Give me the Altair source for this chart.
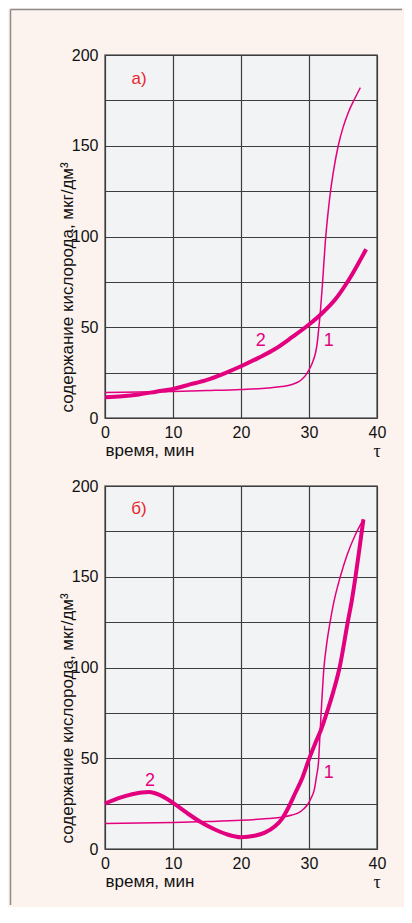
import altair as alt
import pandas as pd

# ---- data ----
a_thin_t = [0, 5, 10, 15, 20, 24, 26, 27.5, 28.5, 29, 29.5, 30, 30.5, 30.9, 31.2, 31.45, 31.7, 32.0, 32.4, 32.8, 33.1, 33.6, 34.3, 35.0, 35.8, 36.6, 37.55]
a_thin_c = [14, 14.3, 14.6, 15.1, 15.7, 16.5, 17.3, 18.5, 20, 21.5, 23.5, 26.5, 30.5, 35, 41, 50, 60, 75, 97, 113, 123, 136, 150, 160, 168.5, 175, 182]
a_thick_t = [0, 2.5, 5, 7.5, 10, 12.5, 15, 17.5, 20, 22.5, 25, 27.5, 30, 32, 34, 36, 38.4]
a_thick_c = [11.5, 12, 13, 14.5, 16, 18.5, 21, 24.5, 28.5, 33, 38, 44.5, 51.5, 58, 66, 77, 93]

b_thin_t = [0, 5, 10, 15, 20, 24, 26, 27.5, 28.5, 29.2, 29.8, 30.3, 30.8, 31.1, 31.4, 31.6, 31.8, 32.2, 32.6, 33.1, 33.65, 34.6, 35.6, 36.8, 38]
b_thin_c = [14, 14.3, 14.6, 15.1, 15.8, 16.8, 17.5, 18.7, 20, 22, 24.5, 28, 33, 40, 48, 62, 76, 100, 113, 125, 136, 150, 162, 173, 181.6]
b_thick_t = [0, 2, 4, 6.5, 8, 10, 12, 14, 16, 18, 20, 22, 23.5, 25, 26, 27, 28, 29, 30, 31, 31.7, 32.7, 33.6, 34.5, 35.7, 36.3, 36.8, 37.4, 38]
b_thick_c = [25, 28, 30.2, 31.4, 29.8, 25.4, 20, 15, 11, 8, 6.5, 7.3, 9, 12.5, 16.5, 23, 31, 39, 49.5, 59, 65, 76, 87, 100, 125, 137, 149, 165, 181.6]

a_labels = {"text": ["2", "1"], "t": [22.9, 32.9], "c": [42.3, 42.3]}
b_labels = {"text": ["2", "1"], "t": [6.6, 32.9], "c": [37.3, 41.9]}
letters = ["а)", "б)"]
letter_pos = {"t": [5, 5], "c": [187, 187.5]}

x_ticks = [0, 10, 20, 30, 40]
y_ticks = [0, 25, 50, 75, 100, 125, 150, 175, 200]

MAGENTA = "#e2007f"
RED = "#e8262b"
FONT = "Liberation Sans"
NARROW = "Liberation Sans Narrow, Liberation Sans"
W, H = 272, 363


def panel(thin_t, thin_c, thick_t, thick_c, labels, letter, lpos_c, frame=False):
    xs = alt.X("t:Q", scale=alt.Scale(domain=[0, 40], nice=False),
               axis=alt.Axis(values=x_ticks, title="время, мин", grid=True, ticks=False, domain=False,
                             labelPadding=6, labelFlush=False, labelOverlap=False,
                             labelFont=NARROW, labelFontSize=16, labelColor="#111",
                             titleX=0, titleY=37, titleAlign="left", titleBaseline="alphabetic",
                             titleFont=FONT, titleFontSize=17, titleFontWeight="normal", titleColor="#111"))
    ys = alt.Y("c:Q", scale=alt.Scale(domain=[0, 200], nice=False),
               axis=alt.Axis(values=y_ticks, labelExpr="datum.value % 50 === 0 ? datum.label : ''",
                             title="содержание кислорода, мкг/дм³", grid=True, ticks=False, domain=False,
                             labelPadding=7, labelFlush=False, labelOverlap=False,
                             labelFont=NARROW, labelFontSize=16, labelColor="#111",
                             titleX=-33, titleY=357, titleAngle=270, titleAlign="left",
                             titleBaseline="alphabetic",
                             titleFont=FONT, titleFontSize=17, titleFontWeight="normal", titleColor="#111"))

    d_thin = pd.DataFrame({"t": thin_t, "c": thin_c, "i": range(len(thin_t))})
    d_thick = pd.DataFrame({"t": thick_t, "c": thick_c, "i": range(len(thick_t))})

    thin = alt.Chart(d_thin).mark_line(color=MAGENTA, strokeWidth=1.5, interpolate="monotone").encode(
        x=xs, y=ys, order="i:Q")
    thick = alt.Chart(d_thick).mark_line(color=MAGENTA, strokeWidth=4, interpolate="monotone").encode(
        x=xs, y=ys, order="i:Q")
    nums = alt.Chart(pd.DataFrame(labels)).mark_text(color=MAGENTA, font=FONT, fontSize=18,
                                                   baseline="middle", align="center").encode(
        x=xs, y=ys, text="text:N")
    let = alt.Chart(pd.DataFrame({"text": [letter], "t": [letter_pos["t"][0]], "c": [lpos_c]})).mark_text(
        color=RED, font=FONT, fontSize=17, baseline="middle", align="center").encode(x=xs, y=ys, text="text:N")
    tau = alt.Chart(pd.DataFrame({"t": [40], "text": ["τ"]})).mark_text(
        color="#111", font="Liberation Serif", fontSize=18, baseline="alphabetic", align="center").encode(
        x=xs, y=alt.value(H + 39), text="text:N")
    layers = [thin, thick, nums, let, tau]
    if frame:
        one = pd.DataFrame({"k": [0]})
        vline = alt.Chart(one).mark_rule(color="#8a8a8a", strokeWidth=1.5).encode(
            x=alt.value(-94.5), y=alt.value(-45.5), y2=alt.value(850))
        hline = alt.Chart(one).mark_rule(color="#8a8a8a", strokeWidth=1.5).encode(
            x=alt.value(-94.5), x2=alt.value(297), y=alt.value(-45.5))
        layers += [vline, hline]
    return alt.layer(*layers).properties(width=W, height=H)


pa = panel(a_thin_t, a_thin_c, a_thick_t, a_thick_c, a_labels, letters[0], letter_pos["c"][0], frame=True)
pb = panel(b_thin_t, b_thin_c, b_thick_t, b_thick_c, b_labels, letters[1], letter_pos["c"][1])

chart = alt.vconcat(pa, pb, spacing=68, bounds="flush").properties(
    padding={"left": 1, "top": 0, "right": 0, "bottom": 0},
    background="#fcf3ee",
).configure_view(
    stroke="#6a6a6a", strokeWidth=1.5, fill="#f2f3f5"
).configure_axis(
    gridColor="#3d3d3d", gridWidth=1.2, gridOpacity=1
)

chart.save("out.html", embed_options={"renderer": "svg", "actions": False})
